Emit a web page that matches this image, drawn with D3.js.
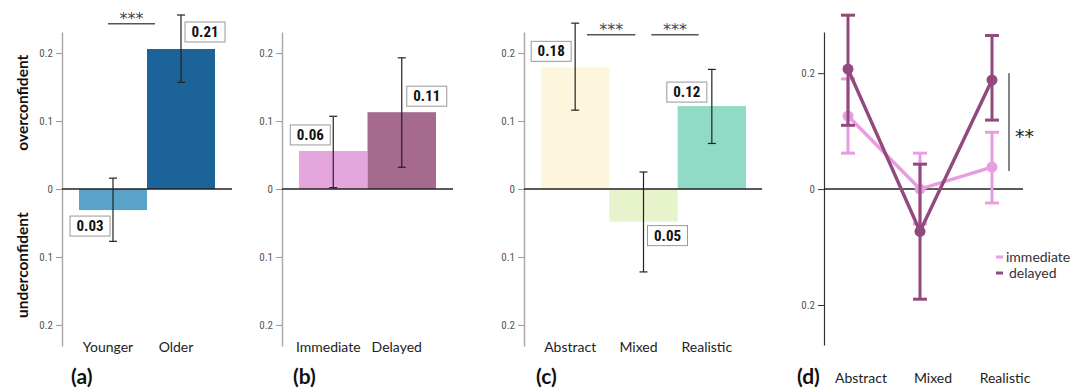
<!DOCTYPE html>
<html><head><meta charset="utf-8">
<script src="https://cdn.jsdelivr.net/npm/d3@7"></script>
<style>
body{margin:0;background:#fff;}
svg{display:block;}
</style></head>
<body>
<svg id="chart" width="1070" height="389"></svg>
<script>
// ---------- DATA ----------
const catsA = ["Younger", "Older"];
const valsA = [-0.031, 0.206];
const lowA  = [-0.077, 0.157];
const highA = [0.016, 0.256];
const labA  = ["0.03", "0.21"];

const catsB = ["Immediate", "Delayed"];
const valsB = [0.056, 0.113];
const lowB  = [0.002, 0.032];
const highB = [0.107, 0.193];
const labB  = ["0.06", "0.11"];

const catsC = ["Abstract", "Mixed", "Realistic"];
const valsC = [0.179, -0.048, 0.122];
const lowC  = [0.116, -0.122, 0.067];
const highC = [0.244, 0.025, 0.176];
const labC  = ["0.18", "0.05", "0.12"];

const catsD = ["Abstract", "Mixed", "Realistic"];
const immD     = [0.126, 0.0, 0.038];
const immLowD  = [0.062, -0.060, -0.024];
const immHighD = [0.190, 0.062, 0.098];
const delD     = [0.207, -0.073, 0.188];
const delLowD  = [0.110, -0.190, 0.119];
const delHighD = [0.300, 0.043, 0.265];
const seriesD  = ["immediate", "delayed"];

const tickVals   = [-0.2, -0.1, 0, 0.1, 0.2];
const tickValsD  = [-0.2, 0, 0.2];
const panelTags  = ["(a)", "(b)", "(c)", "(d)"];
const sideLabels = ["overconfident", "underconfident"];

// ---------- STYLE / LAYOUT ----------
const colA = ["#59a3c9", "#1b6399"];
const colB = ["#e4a6dc", "#a56a8e"];
const colC = ["#fdf6dc", "#e7f3ca", "#90dac6"];
const colD = ["#e89de1", "#924a7e"];
const tickFont = "'Liberation Sans Narrow','Roboto Condensed','DejaVu Sans Condensed',sans-serif";
const lblFont = "Lato, 'Open Sans', sans-serif";
const starFont = "'DejaVu Sans', sans-serif";

const svg = d3.select("#chart");
const fmt = v => v === 0 ? "0" : Math.abs(v).toFixed(1);

function barPanel(cfg){
  const {cats, vals, low, high, labs, cols, axisX, xRange, zeroEnd, boxOff, tag, tagX} = cfg;
  const y = d3.scaleLinear().domain([-0.231, 0.231]).range([346, 32]);
  const x = d3.scaleBand().domain(cats).range(xRange).padding(0);
  const g = svg.append("g");
  const ax = d3.axisLeft(y).tickValues(tickVals).tickFormat(fmt).tickSize(6).tickSizeOuter(0);
  const axG = g.append("g").attr("transform", `translate(${axisX},0)`).call(ax);
  axG.select(".domain").attr("stroke", "#aaa").attr("stroke-width", 1.5);
  axG.selectAll(".tick line").attr("stroke", "#999");
  axG.selectAll(".tick text").attr("font-family", tickFont).attr("font-size", 11).attr("fill", "#555").attr("x", -9);
  g.selectAll(".bar").data(cats).join("rect")
    .attr("x", d => x(d)).attr("width", x.bandwidth())
    .attr("y", (d,i) => y(Math.max(0, vals[i])))
    .attr("height", (d,i) => Math.abs(y(vals[i]) - y(0)))
    .attr("fill", (d,i) => cols[i]);
  g.append("line").attr("x1", axisX).attr("x2", zeroEnd).attr("y1", y(0)).attr("y2", y(0))
    .attr("stroke", "#222").attr("stroke-width", 1.5);
  cats.forEach((c,i) => {
    const cx = x(c) + x.bandwidth()/2;
    g.append("line").attr("x1", cx).attr("x2", cx).attr("y1", y(high[i])).attr("y2", y(low[i])).attr("stroke", "#222").attr("stroke-width", 1.2);
    [high[i], low[i]].forEach(v => g.append("line").attr("x1", cx-4).attr("x2", cx+4).attr("y1", y(v)).attr("y2", y(v)).attr("stroke", "#222").attr("stroke-width", 1.2));
    const bx = cx + boxOff[i][0], by = y(vals[i]) + boxOff[i][1];
    g.append("rect").attr("x", bx-20).attr("y", by-10).attr("width", 40).attr("height", 20)
      .attr("fill", "#fff").attr("stroke", "#999").attr("stroke-width", 1);
    g.append("text").attr("x", bx).attr("y", by+5).attr("text-anchor", "middle")
      .attr("font-family", tickFont).attr("font-weight", "bold").attr("font-size", 15).attr("fill", "#111").text(labs[i]);
    g.append("text").attr("x", cx - 5).attr("y", 352).attr("text-anchor", "middle")
      .attr("font-family", lblFont).attr("font-size", 14).attr("fill", "#222").text(c);
  });
  g.append("text").attr("x", tagX).attr("y", 384).attr("font-family", lblFont).attr("font-weight", "bold")
    .attr("font-size", 21).attr("fill", "#111").text(tag);
  return {x, y, g};
}

function sig(g, x1, x2, yy, label){
  g.append("line").attr("x1", x1).attr("x2", x2).attr("y1", yy).attr("y2", yy).attr("stroke", "#555").attr("stroke-width", 1.5);
  g.append("text").attr("x", (x1+x2)/2).attr("y", yy).attr("text-anchor", "middle")
    .attr("font-family", starFont).attr("font-size", 16).attr("fill", "#444").text(label);
}

// Panel (a)
const pA = barPanel({cats: catsA, vals: valsA, low: lowA, high: highA, labs: labA, cols: colA,
  axisX: 62, xRange: [79, 215], zeroEnd: 232,
  boxOff: [[-23, 16], [24, -17]], tag: panelTags[0], tagX: 71});
sig(pA.g, pA.x("Younger") + 29, pA.x("Older") + 8, pA.y(0.243), "***");

svg.append("text").attr("transform", `translate(28,${pA.y(0.127)}) rotate(-90)`).attr("text-anchor", "middle")
  .attr("font-family", lblFont).attr("font-weight", "bold").attr("font-size", 15.5).attr("fill", "#111").text(sideLabels[0]);
svg.append("text").attr("transform", `translate(28,${pA.y(-0.112)}) rotate(-90)`).attr("text-anchor", "middle")
  .attr("font-family", lblFont).attr("font-weight", "bold").attr("font-size", 15.5).attr("fill", "#111").text(sideLabels[1]);

// Panel (b)
barPanel({cats: catsB, vals: valsB, low: lowB, high: highB, labs: labB, cols: colB,
  axisX: 282, xRange: [299, 436], zeroEnd: 453,
  boxOff: [[-23, -16], [25, -16]], tag: panelTags[1], tagX: 293});

// Panel (c)
const pC = barPanel({cats: catsC, vals: valsC, low: lowC, high: highC, labs: labC, cols: colC,
  axisX: 524, xRange: [541, 746], zeroEnd: 762,
  boxOff: [[-24, -16], [24, 14], [-25, -14]], tag: panelTags[2], tagX: 536});
sig(pC.g, pC.x("Abstract") + 46, pC.x("Mixed") + 26, pC.y(0.227), "***");
sig(pC.g, pC.x("Mixed") + 42, pC.x("Realistic") + 21, pC.y(0.227), "***");

// Panel (d)
(function(){
  const y = d3.scaleLinear().domain([-0.269, 0.271]).range([345, 32]);
  const x = d3.scalePoint().domain(catsD).range([848, 992]);
  const g = svg.append("g");
  const axisX = 824;
  const ax = d3.axisLeft(y).tickValues(tickValsD).tickFormat(fmt).tickSize(6).tickSizeOuter(0);
  const axG = g.append("g").attr("transform", `translate(${axisX},0)`).call(ax);
  axG.select(".domain").attr("stroke", "#333").attr("stroke-width", 1.2);
  axG.selectAll(".tick line").attr("stroke", "#333");
  axG.selectAll(".tick text").attr("font-family", tickFont).attr("font-size", 11).attr("fill", "#555").attr("x", -9);
  g.append("line").attr("x1", axisX).attr("x2", 1023).attr("y1", y(0)).attr("y2", y(0)).attr("stroke", "#222").attr("stroke-width", 1.5);

  const series = [
    {name: seriesD[0], v: immD, lo: immLowD, hi: immHighD, col: colD[0]},
    {name: seriesD[1], v: delD, lo: delLowD, hi: delHighD, col: colD[1]}
  ];
  const line = d3.line().x((d,i) => x(catsD[i])).y(d => y(d));
  series.forEach(s => {
    catsD.forEach((c,i) => {
      const cx = x(c);
      g.append("line").attr("x1", cx).attr("x2", cx).attr("y1", y(s.hi[i])).attr("y2", y(s.lo[i])).attr("stroke", s.col).attr("stroke-width", 3);
      [s.hi[i], s.lo[i]].forEach(v => g.append("line").attr("x1", cx-7).attr("x2", cx+7).attr("y1", y(v)).attr("y2", y(v)).attr("stroke", s.col).attr("stroke-width", 3));
    });
    g.append("path").datum(s.v).attr("d", line).attr("fill", "none").attr("stroke", s.col).attr("stroke-width", 3.5);
    g.selectAll(null).data(s.v).join("circle").attr("cx", (d,i) => x(catsD[i])).attr("cy", d => y(d)).attr("r", 5.5).attr("fill", s.col);
  });
  g.append("line").attr("x1", 1009).attr("x2", 1009).attr("y1", y(0.2)).attr("y2", y(0.031)).attr("stroke", "#333").attr("stroke-width", 1.2);
  g.append("text").attr("x", 1015).attr("y", y(0.08)).attr("font-family", starFont).attr("font-size", 19).attr("fill", "#222").text("**");
  series.forEach((s,i) => {
    const ly = 257 + i*16;
    g.append("line").attr("x1", 996).attr("x2", 1003).attr("y1", ly).attr("y2", ly).attr("stroke", s.col).attr("stroke-width", 3);
    g.append("text").attr("x", 1006 + i*3).attr("y", ly+4.5).attr("font-family", lblFont).attr("font-size", 14).attr("fill", "#333").text(s.name);
  });
  catsD.forEach(c => g.append("text").attr("x", x(c) + 13).attr("y", 383).attr("text-anchor", "middle")
    .attr("font-family", lblFont).attr("font-size", 14).attr("fill", "#222").text(c));
  g.append("text").attr("x", 797).attr("y", 384).attr("font-family", lblFont).attr("font-weight", "bold")
    .attr("font-size", 21).attr("fill", "#111").text(panelTags[3]);
})();
</script>
</body></html>
